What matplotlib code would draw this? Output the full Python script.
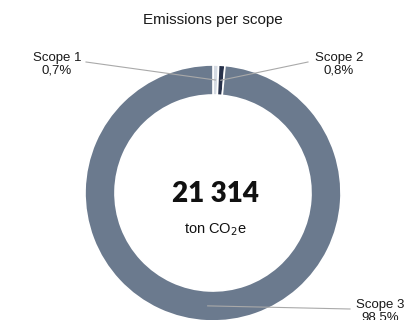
import numpy as np
import matplotlib.pyplot as plt

scopes = ["Scope 1", "Scope 2", "Scope 3"]
shares = [0.7, 0.8, 98.5]
colors = ["#d5dbe3", "#27314a", "#6b7a8e"]
total = "21 314"

W, H = 407, 320
fig = plt.figure(figsize=(W / 100, H / 100), dpi=100)
ax = fig.add_axes([0, 0, 1, 1])

cx, cy = 213, H - 193
R, ring = 128, 30
ax.pie(shares, colors=colors, center=(cx, cy), radius=R,
       startangle=90, counterclock=False, frame=True,
       wedgeprops=dict(width=ring, edgecolor="white", linewidth=1.2))
ax.set_xlim(0, W)
ax.set_ylim(0, H)
ax.set_aspect("equal")
ax.axis("off")

ax.text(213, H - 20, "Emissions per scope", ha="center", va="center",
        fontsize=11, family="Liberation Sans", color="#1a1a1a")

ax.text(cx + 2, cy - 1, total, ha="center", va="center", fontsize=20,
        fontweight="heavy", family="Lato", color="#111111")
ax.text(cx + 2, cy - 37, "ton CO$_2$e", ha="center", va="center",
        fontsize=10.5, family="Liberation Sans", color="#111111")

# leader lines from mid-ring to each label
label_pos = [(57, H - 64), (339, H - 64), (380, H - 311)]
line_end = [(86, H - 62), (308, H - 62), (350, H - 309)]
mid_r = R - ring / 2
start = 90.0
for name, val, (lx, ly), (ex, ey) in zip(scopes, shares, label_pos, line_end):
    ang = np.deg2rad(start - val / 2 * 3.6)
    start -= val * 3.6
    px, py = cx + mid_r * np.cos(ang), cy + mid_r * np.sin(ang)
    ax.plot([px, ex], [py, ey], color="#a9a9a9", linewidth=0.8, zorder=5)
    ax.text(lx, ly, f"{name}\n{val:.1f}%".replace(".", ","), ha="center",
            va="center", fontsize=9.5, family="Liberation Sans",
            color="#1a1a1a", linespacing=1.1)

fig.savefig("out.png", dpi=100)
